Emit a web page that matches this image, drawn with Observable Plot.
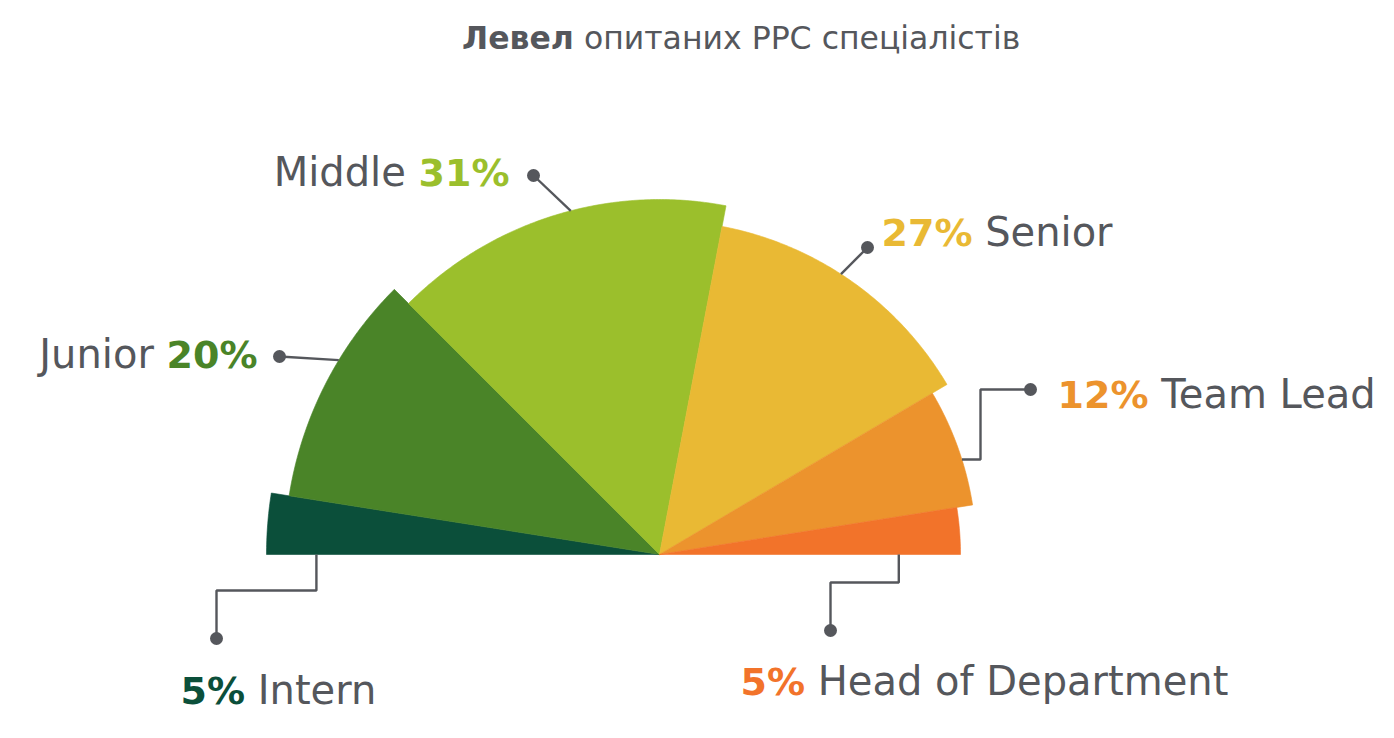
<!DOCTYPE html>
<html>
<head>
<meta charset="utf-8">
<script src="https://cdn.jsdelivr.net/npm/d3@7"></script>
<script src="https://cdn.jsdelivr.net/npm/@observablehq/plot@0.6"></script>
<style>
  body { margin: 0; background: #fff; font-family: "DejaVu Sans", sans-serif; }
  #title { position: relative; height: 70px; }
  #title .t { position: absolute; left: 462px; top: 20px; font-size: 31.5px; color: #55575c; white-space: nowrap; }
  #title b { font-weight: bold; }
</style>
</head>
<body>
<div id="title"><span class="t"></span></div>
<div id="chart"></div>
<script>
// ---- data ----
const titleBold = "Левел";
const titleRest = " опитаних PPC спеціалістів";
const categories = ["Intern", "Junior", "Middle", "Senior", "Team Lead", "Head of Department"];
const shares = [5, 20, 31, 27, 12, 5];
const percentLabels = ["5%", "20%", "31%", "27%", "12%", "5%"];

// ---- style / layout ----
const colors = ["#0b4f3a", "#4a8428", "#9bbf2c", "#e9b934", "#ec932d", "#f2732a"];
const radii = [393, 375, 355, 334, 317, 301];
const GRAY = "#55575c";
const FS = 40;
const PFS = 38;
const FONT = '"DejaVu Sans"';
// label placement (pixel units relative to the pie centre, y up)
const labelLayout = {
  "Intern":             {x: -479, y: -149, align: "start", route: "elbowV", edge: "start", frac: 0.873, bendY: -36, dot: [-443, -84]},
  "Junior":             {x: -402, y: 187,  align: "end",   route: "straight", t: 0.617, dot: [-380, 198]},
  "Middle":             {x: -150, y: 369,  align: "end",   route: "straight", t: 0.547, dot: [-126, 379]},
  "Senior":             {x: 222,  y: 309,  align: "start", route: "straight", t: 0.455, dot: [208, 307]},
  "Team Lead":          {x: 398,  y: 147,  align: "start", route: "elbowH", t: 0.609, bendX: 321, dot: [371, 165]},
  "Head of Department": {x: 81,   y: -140, align: "start", route: "elbowV", edge: "end", frac: 0.795, bendY: -28, dot: [171, -76]}
};

document.querySelector("#title .t").innerHTML = `<b>${titleBold}</b>${titleRest}`;

const total = d3.sum(shares);
const polar = (deg, r) => ({x: -r * Math.cos(deg * Math.PI / 180), y: r * Math.sin(deg * Math.PI / 180)});
let cum = 0;
const slices = categories.map((c, i) => {
  const a0 = cum / total * 180; cum += shares[i]; const a1 = cum / total * 180;
  return {cat: c, a0, a1, r: radii[i], pct: percentLabels[i]};
});

const slicePts = slices.flatMap(s => {
  const pts = [{cat: s.cat, x: 0, y: 0}];
  const n = Math.max(8, Math.ceil((s.a1 - s.a0) * 2));
  for (let k = 0; k <= n; k++) pts.push({cat: s.cat, ...polar(s.a0 + (s.a1 - s.a0) * k / n, s.r)});
  pts.push({cat: s.cat, x: 0, y: 0});
  return pts;
});

const leaderPts = [];
const dotPts = [];
slices.forEach(s => {
  const L = labelLayout[s.cat];
  const dot = {x: L.dot[0], y: L.dot[1]};
  let path;
  if (L.route === "straight") {
    const a = polar(s.a0 + (s.a1 - s.a0) * L.t, s.r);
    path = [a, dot];
  } else if (L.route === "elbowH") {
    const a = polar(s.a0 + (s.a1 - s.a0) * L.t, s.r);
    path = [a, {x: L.bendX, y: a.y}, {x: L.bendX, y: dot.y}, dot];
  } else {
    const a = polar(L.edge === "start" ? s.a0 : s.a1, s.r * L.frac);
    path = [a, {x: a.x, y: L.bendY}, {x: dot.x, y: L.bendY}, dot];
  }
  path.forEach(p => leaderPts.push({cat: s.cat, x: p.x, y: p.y}));
  dotPts.push({cat: s.cat, ...dot});
});

const ctx = document.createElement("canvas").getContext("2d");
const measure = (t, w, fs) => { ctx.font = `${w} ${fs}px ${FONT}`; return ctx.measureText(t).width; };
const pctPieces = [], namePieces = [];
slices.forEach(s => {
  const L = labelLayout[s.cat];
  const pw = measure(s.pct, "bold", PFS), sw = measure(" ", "normal", FS), nw = measure(s.cat, "normal", FS);
  if (L.align === "start") {
    pctPieces.push({cat: s.cat, text: s.pct, x: L.x, y: L.y});
    namePieces.push({cat: s.cat, text: s.cat, x: L.x + pw + sw, y: L.y});
  } else {
    pctPieces.push({cat: s.cat, text: s.pct, x: L.x - pw, y: L.y});
    namePieces.push({cat: s.cat, text: s.cat, x: L.x - pw - sw - nw, y: L.y});
  }
});

const chart = Plot.plot({
  width: 1394, height: 668, margin: 0,
  x: {domain: [-659, 735], axis: null},
  y: {domain: [-184, 484], axis: null},
  color: {domain: categories, range: colors},
  style: {fontFamily: '"DejaVu Sans", sans-serif', background: "#fff"},
  marks: [
    Plot.line(slicePts, {x: "x", y: "y", z: "cat", fill: "cat", stroke: "cat", strokeWidth: 0.6, curve: "linear-closed"}),
    Plot.line(leaderPts, {x: "x", y: "y", z: "cat", stroke: GRAY, strokeWidth: 2.4, strokeLinejoin: "miter", strokeLinecap: "butt"}),
    Plot.dot(dotPts, {x: "x", y: "y", r: 6.5, fill: GRAY}),
    Plot.text(pctPieces, {x: "x", y: "y", text: "text", fill: "cat", fontWeight: "bold", fontSize: PFS, fontFamily: FONT, textAnchor: "start", lineAnchor: "bottom"}),
    Plot.text(namePieces, {x: "x", y: "y", text: "text", fill: GRAY, fontSize: FS, fontFamily: FONT, textAnchor: "start", lineAnchor: "bottom"})
  ]
});
document.getElementById("chart").appendChild(chart);
</script>
</body>
</html>
